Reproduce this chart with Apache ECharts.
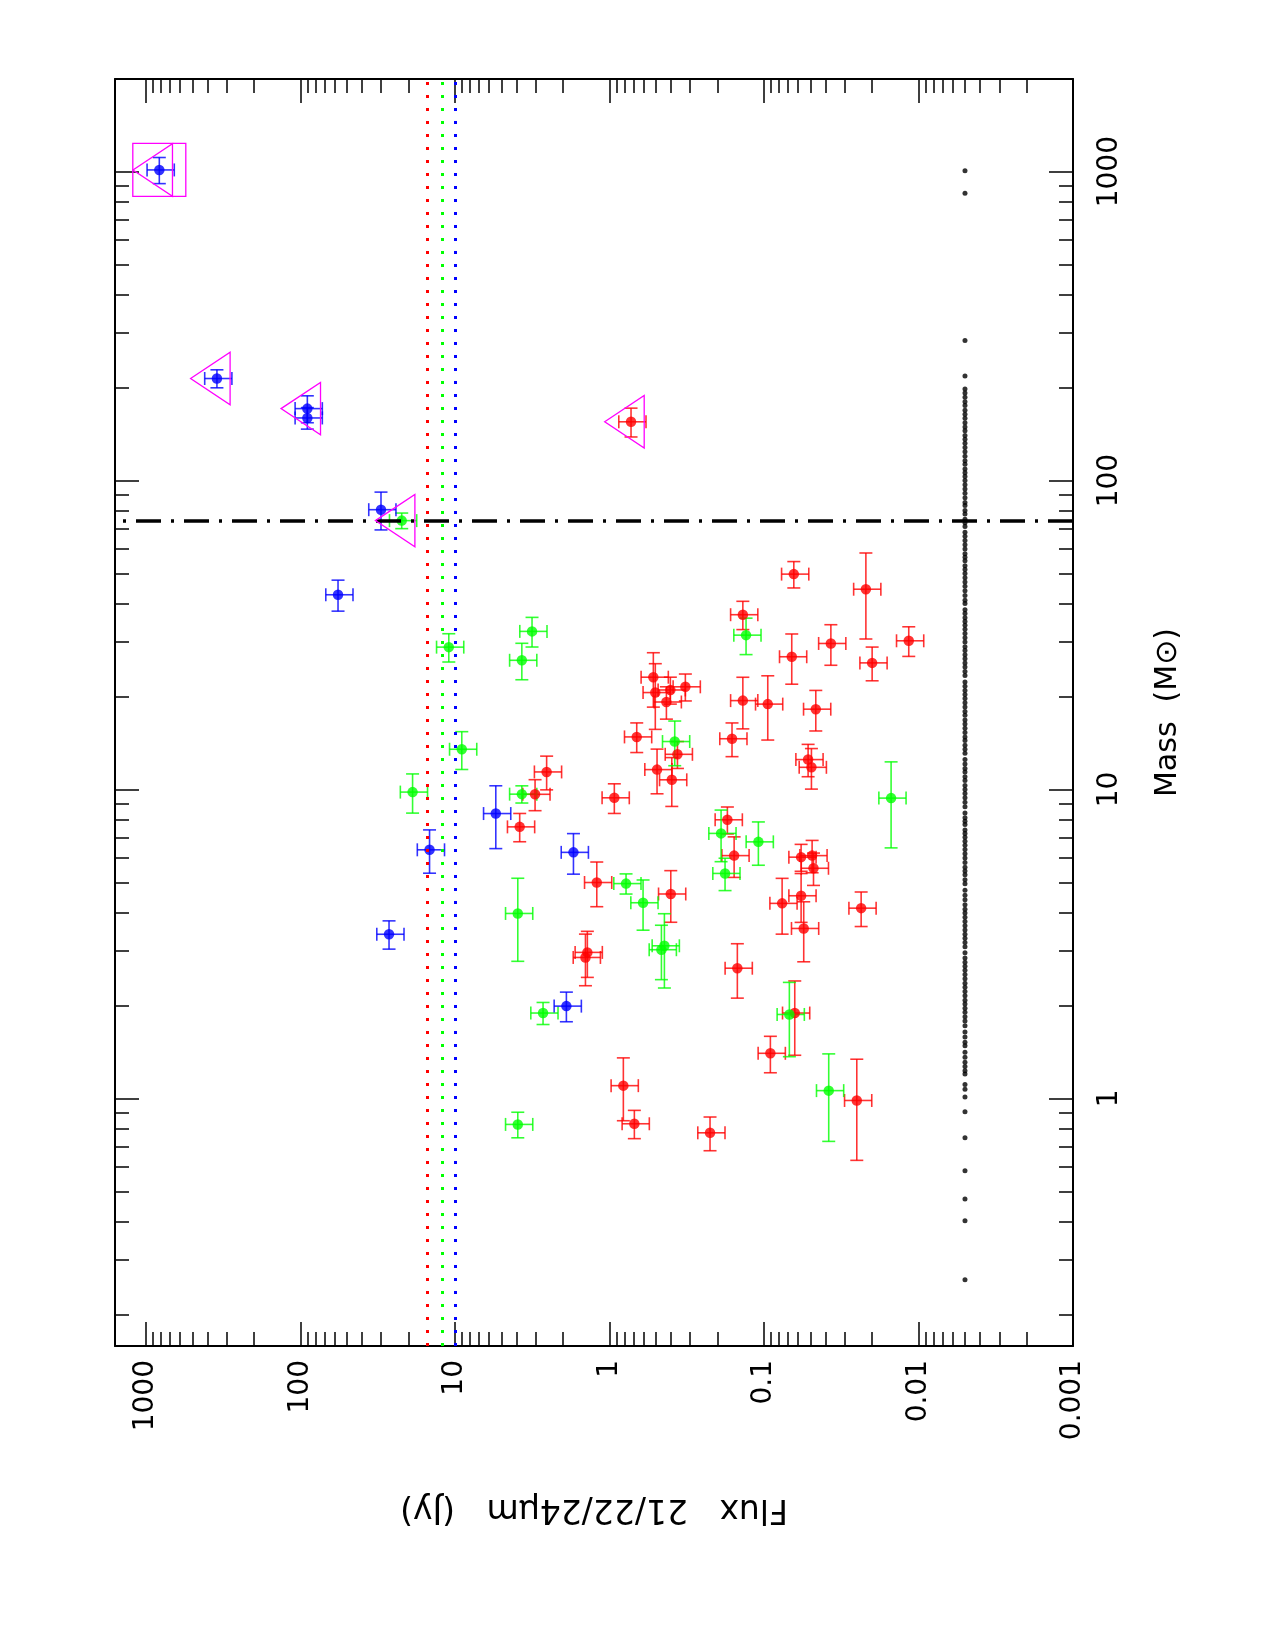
<!DOCTYPE html>
<html>
<head>
<meta charset="utf-8">
<script src="https://cdn.jsdelivr.net/npm/echarts@6/dist/echarts.min.js"></script>
<style>
html, body { margin: 0; padding: 0; background: #fff; }
#chart { width: 1275px; height: 1650px; }
</style>
</head>
<body>
<div id="chart"></div>
<script>
// axis ranges (flux in Jy, mass in Msun), both drawn on log10 value axes
var fluxRange = [0.001, 1585];
var massRange = [0.158, 1995];
var fluxTicks = [0.001, 0.01, 0.1, 1, 10, 100, 1000];
var massTicks = [1, 10, 100, 1000];

// detected sources: flux, mass, mass error (fraction)
var blueFlux = [819, 347, 90.2, 90.2, 30.1, 57.1, 5.44, 14.6, 1.71, 26.7, 1.90];
var blueMass = [1013, 214, 171, 159.5, 80.5, 42.7, 8.36, 6.38, 6.26, 3.40, 1.99];
var blueMassErr = [0.097, 0.067, 0.10, 0.08, 0.14, 0.115, 0.23, 0.16, 0.15, 0.105, 0.11];

var greenFlux = [22.1, 10.96, 3.17, 3.69, 9.03, 18.8, 3.69, 0.1306, 0.378, 0.01504, 0.1895,
    0.1087, 0.1786, 0.781, 0.606, 3.92, 0.441, 0.461, 2.69, 0.0685, 0.0381, 3.92];
var greenMass = [74.2, 28.9, 32.5, 26.2, 13.5, 9.81, 9.66, 31.6, 14.3, 9.38, 7.21,
    6.77, 5.35, 4.96, 4.30, 3.97, 3.12, 3.03, 1.89, 1.87, 1.06, 0.824];
var greenMassErr = [0.058, 0.105, 0.11, 0.135, 0.14, 0.145, 0.064, 0.135, 0.165, 0.31, 0.19,
    0.16, 0.12, 0.075, 0.185, 0.30, 0.27, 0.20, 0.082, 0.27, 0.315, 0.095];

var redFlux = [0.725, 0.0641, 0.0219, 0.137, 0.0369, 0.01156, 0.0661, 0.01995, 0.520, 0.505,
    0.4035, 0.428, 0.3227, 0.137, 0.0945, 0.0462, 0.666, 0.161, 0.363, 0.492,
    0.395, 0.0518, 0.0493, 2.55, 3.03, 0.930, 3.81, 0.1725, 0.156, 0.0575,
    0.0488, 0.0478, 1.208, 0.401, 0.0763, 0.0575, 0.0553, 0.0235, 1.39, 1.43,
    0.1487, 0.0632, 0.0909, 0.813, 0.690, 0.2234, 0.02508];
var redMass = [155, 49.8, 44.5, 36.8, 29.7, 30.3, 26.9, 25.7, 23.1, 20.6,
    21.0, 19.2, 21.5, 19.4, 18.9, 18.2, 14.8, 14.6, 13.0, 11.6,
    10.75, 12.5, 11.8, 11.4, 9.65, 9.40, 7.57, 7.98, 6.11, 6.04,
    6.11, 5.56, 5.00, 4.59, 4.28, 4.53, 3.55, 4.13, 2.97, 2.86,
    2.64, 1.89, 1.40, 1.10, 0.828, 0.774, 0.985];
var redMassErr = [0.107, 0.098, 0.31, 0.105, 0.15, 0.11, 0.185, 0.125, 0.20, 0.24,
    0.10, 0.12, 0.10, 0.19, 0.235, 0.15, 0.11, 0.125, 0.10, 0.165,
    0.18, 0.12, 0.15, 0.125, 0.115, 0.11, 0.105, 0.10, 0.15, 0.10,
    0.12, 0.12, 0.165, 0.19, 0.205, 0.18, 0.22, 0.128, 0.17, 0.19,
    0.20, 0.27, 0.135, 0.23, 0.105, 0.125, 0.36];

// every horizontal bar reads about +/-20 % in flux
var fluxErrFrac = 0.2;

// sources flagged with a magenta triangle / box
var markedFlux = [819, 347, 90.2, 22.1, 0.725];
var markedMass = [1013, 214, 171, 74.2, 155];
var boxedFlux = [819];
var boxedMass = [1013];

// flux limits (red, green, blue) and mass cut
var limitFlux = [15, 12, 10];
var limitColor = ['#ff0000', '#00ff00', '#0000ff'];
var massCut = 74;

// whole sample, plotted at a nominal flux
var sampleFlux = 0.005;
var sampleMass = [1007, 851, 284, 218,
    198, 192, 186, 180, 175, 169, 164, 159, 154, 149, 145, 140, 136, 132, 128, 124, 120, 116, 113, 109, 106, 103, 100,
    97, 94, 91, 88, 85, 83, 80, 78, 75, 73, 71, 68, 66, 64, 62, 60, 58, 56.5, 55, 53, 51.5, 50, 48.5, 47, 45.5, 44, 42.5, 41, 40,
    38.2, 37.1, 36, 35, 34, 33, 32, 31, 30, 29, 28.2, 27.3, 26.5, 25.7, 24.9, 24.1, 23.4,
    22.3, 21.6, 20.9, 20.3, 19.7, 19.1, 18.5, 17.9, 17.4, 16.8, 16.3, 15.8, 15.3, 14.8, 14.4, 13.9, 13.5, 13.1,
    12.5, 12.1, 11.7, 11.4, 11.0, 10.7, 10.3, 10.0, 9.7, 9.4, 9.1, 8.8,
    8.4, 8.1, 7.9, 7.7, 7.4, 7.2, 7.0, 6.8, 6.6, 6.4, 6.2, 6.0, 5.8, 5.6, 5.45, 5.3, 5.1, 4.95,
    4.72, 4.55, 4.4, 4.24, 4.1, 3.98, 3.86, 3.74, 3.62, 3.51, 3.4, 3.3, 3.2, 3.1,
    2.96, 2.85, 2.76, 2.68, 2.6, 2.52, 2.44, 2.36, 2.29, 2.22, 2.15, 2.08, 2.02, 1.96, 1.9, 1.84, 1.78, 1.72,
    1.64, 1.58, 1.52, 1.48, 1.41, 1.36, 1.31, 1.27, 1.23, 1.2,
    1.11, 1.07, 1.01, 0.906, 0.746, 0.583, 0.473, 0.402, 0.259];

function lg(v) { return Math.log10(v); }

var xMin = lg(fluxRange[0]), xMax = lg(fluxRange[1]);
var yMin = lg(massRange[0]), yMax = lg(massRange[1]);

// 2..9 x 10^n inside a range, in log units
function minorTicks(lo, hi) {
    var out = [];
    for (var e = -4; e <= 4; e++) {
        for (var k = 2; k <= 9; k++) {
            var v = k * Math.pow(10, e);
            if (v > lo && v < hi) out.push(lg(v));
        }
    }
    return out;
}

function tickLabel(v) {
    return String(parseFloat(Math.pow(10, v).toPrecision(3)));
}

var font = '"DejaVu Sans", sans-serif';

function xAx(pos, major, withLabel) {
    var ax = {
        type: 'value', position: pos, min: xMin, max: xMax, inverse: true,
        axisLine: { show: major, onZero: false, lineStyle: { color: '#000', width: 2 } },
        splitLine: { show: false },
        axisTick: {
            show: true, inside: true, length: major ? 24 : 14,
            lineStyle: { color: '#000', width: 1.5 },
            customValues: major ? fluxTicks.map(lg) : minorTicks(fluxRange[0], fluxRange[1])
        },
        axisLabel: { show: false }
    };
    if (withLabel) {
        ax.axisLabel = {
            show: true, customValues: fluxTicks.map(lg), rotate: 90, margin: 14,
            fontSize: 28, fontFamily: font, color: '#000', formatter: tickLabel
        };
        ax.name = 'Flux   21/22/24\u03bcm   (Jy)';
        ax.nameLocation = 'middle';
        ax.nameRotate = 180;
        ax.nameGap = 146;
        ax.nameTextStyle = { fontSize: 33, fontFamily: font, color: '#000' };
    }
    return ax;
}

function yAx(pos, major, withLabel) {
    var ax = {
        type: 'value', position: pos, min: yMin, max: yMax,
        axisLine: { show: major, onZero: false, lineStyle: { color: '#000', width: 2 } },
        splitLine: { show: false },
        axisTick: {
            show: true, inside: true, length: major ? 24 : 14,
            lineStyle: { color: '#000', width: 1.5 },
            customValues: major ? massTicks.map(lg) : minorTicks(massRange[0], massRange[1])
        },
        axisLabel: { show: false }
    };
    if (withLabel) {
        ax.axisLabel = {
            show: true, customValues: massTicks.map(lg), rotate: 90, margin: 23,
            fontSize: 28, fontFamily: font, color: '#000', formatter: tickLabel
        };
        ax.name = 'Mass  (M\u2299)';
        ax.nameLocation = 'middle';
        ax.nameRotate = 90;
        ax.nameGap = 80;
        ax.nameTextStyle = { fontSize: 30, fontFamily: font, color: '#000' };
    }
    return ax;
}

function errorBars(flux, mass, massErr, color) {
    var data = flux.map(function (f, i) {
        var m = mass[i], e = massErr[i];
        return [lg(f), lg(m), lg(f * (1 + fluxErrFrac)), lg(f * (1 - fluxErrFrac)), lg(m * (1 + e)), lg(m * (1 - e))];
    });
    return {
        type: 'custom', data: data, z: 3, silent: true,
        encode: { x: 0, y: 1 },
        renderItem: function (params, api) {
            var c = api.coord([api.value(0), api.value(1)]);
            var xa = api.coord([api.value(2), api.value(1)])[0];
            var xb = api.coord([api.value(3), api.value(1)])[0];
            var ya = api.coord([api.value(0), api.value(4)])[1];
            var yb = api.coord([api.value(0), api.value(5)])[1];
            var h = 6.5;
            var segs = [
                [xa, c[1], xb, c[1]], [xa, c[1] - h, xa, c[1] + h], [xb, c[1] - h, xb, c[1] + h],
                [c[0], ya, c[0], yb], [c[0] - h, ya, c[0] + h, ya], [c[0] - h, yb, c[0] + h, yb]
            ];
            return {
                type: 'group',
                children: segs.map(function (s) {
                    return {
                        type: 'line',
                        shape: { x1: s[0], y1: s[1], x2: s[2], y2: s[3] },
                        style: { stroke: color, lineWidth: 1.6, opacity: 0.8 }
                    };
                })
            };
        }
    };
}

function points(flux, mass, color) {
    return {
        type: 'scatter', z: 4, silent: true, symbol: 'circle', symbolSize: 10.5,
        itemStyle: { color: color },
        data: flux.map(function (f, i) { return [lg(f), lg(mass[i])]; })
    };
}

var chart = echarts.init(document.getElementById('chart'));

var option = {
    animation: false,
    backgroundColor: '#fff',
    grid: { left: 115, top: 79, width: 958, height: 1267, containLabel: false },
    xAxis: [xAx('bottom', true, true), xAx('bottom', false, false), xAx('top', true, false), xAx('top', false, false)],
    yAxis: [yAx('right', true, true), yAx('right', false, false), yAx('left', true, false), yAx('left', false, false)],
    series: [
        {
            type: 'scatter', z: 2, silent: true, symbolSize: 5,
            itemStyle: { color: '#000' },
            data: sampleMass.map(function (m) { return [lg(sampleFlux), lg(m)]; }),
            markLine: {
                silent: true, symbol: ['none', 'none'], label: { show: false },
                data: limitFlux.map(function (f, i) {
                    return { xAxis: lg(f), lineStyle: { color: limitColor[i], type: [3, 10], width: 3 } };
                }).concat([
                    { yAxis: lg(massCut), lineStyle: { color: '#000', type: [25, 10, 3, 10], width: 3.5 } }
                ])
            }
        },
        errorBars(redFlux, redMass, redMassErr, '#ff0000'),
        errorBars(greenFlux, greenMass, greenMassErr, '#00ff00'),
        errorBars(blueFlux, blueMass, blueMassErr, '#0000ff'),
        points(redFlux, redMass, '#ff0000'),
        points(greenFlux, greenMass, '#00ff00'),
        points(blueFlux, blueMass, '#0000ff'),
        {
            type: 'custom', z: 5, silent: true,
            encode: { x: 0, y: 1 },
            data: markedFlux.map(function (f, i) { return [lg(f), lg(markedMass[i])]; }),
            renderItem: function (params, api) {
                var c = api.coord([api.value(0), api.value(1)]);
                var w = 39.5, h = 52.5;
                return {
                    type: 'polygon',
                    shape: { points: [[c[0] - 2 * w / 3, c[1]], [c[0] + w / 3, c[1] - h / 2], [c[0] + w / 3, c[1] + h / 2]] },
                    style: { fill: 'none', stroke: '#ff00ff', lineWidth: 1.3 }
                };
            }
        },
        {
            type: 'custom', z: 5, silent: true,
            encode: { x: 0, y: 1 },
            data: boxedFlux.map(function (f, i) { return [lg(f), lg(boxedMass[i])]; }),
            renderItem: function (params, api) {
                var c = api.coord([api.value(0), api.value(1)]);
                var s = 53;
                return {
                    type: 'rect',
                    shape: { x: c[0] - s / 2, y: c[1] - s / 2, width: s, height: s },
                    style: { fill: 'none', stroke: '#ff00ff', lineWidth: 1.3 }
                };
            }
        }
    ]
};

chart.setOption(option);
</script>
</body>
</html>
